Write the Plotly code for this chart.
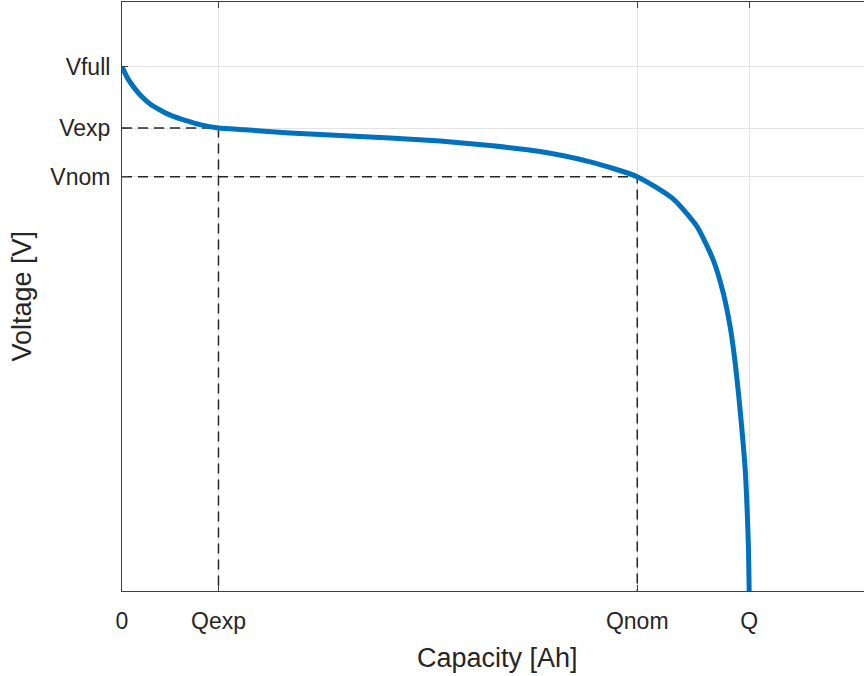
import plotly.graph_objects as go

# Discharge curve samples: capacity [Ah] vs terminal voltage [V]
capacity = [0.0, 0.0622, 0.1348, 0.2073, 0.2903, 0.394, 0.5184, 0.6635, 0.8086,
            1.0, 1.2751, 1.7417, 2.26, 2.778, 3.297, 3.815, 4.333, 4.852,
            5.34, 5.712, 5.961, 6.127, 6.231, 6.303, 6.355, 6.396, 6.428,
            6.459, 6.479, 6.493, 6.5]
voltage = [4.200, 4.104, 4.024, 3.960, 3.903, 3.855, 3.807, 3.769, 3.737,
           3.710, 3.696, 3.670, 3.650, 3.630, 3.606, 3.570, 3.522, 3.439,
           3.320, 3.142, 2.918, 2.653, 2.389, 2.116, 1.828, 1.531, 1.266,
           0.970, 0.649, 0.329, 0.0]

# Characteristic points
q_exp, q_nom, q_full = 1.0, 5.34, 6.5
v_full, v_exp, v_nom = 4.20, 3.71, 3.32

x_ticks = [0, q_exp, q_nom, q_full]
x_labels = ["0", "Qexp", "Qnom", "Q"]
y_ticks = [v_nom, v_exp, v_full]
y_labels = ["Vnom", "Vexp", "Vfull"]

x_range = [0, 7.69]
y_range = [0, 4.72]

font_family = "Liberation Sans, Arial, Helvetica, sans-serif"
text_color = "#262626"
dash_style = dict(color="#262626", width=1.5, dash="10px,6px")

fig = go.Figure()

# Dashed guides to the exponential-zone and nominal-zone points
fig.add_trace(go.Scatter(x=[0, q_exp, q_exp], y=[v_exp, v_exp, 0],
                         mode="lines", line=dash_style, hoverinfo="skip"))
fig.add_trace(go.Scatter(x=[0, q_nom, q_nom], y=[v_nom, v_nom, 0],
                         mode="lines", line=dash_style, hoverinfo="skip"))

# Discharge curve
fig.add_trace(go.Scatter(x=capacity, y=voltage, mode="lines",
                         line=dict(color="#0072BD", width=5, shape="spline",
                                   smoothing=0.6)))

axis_common = dict(
    showgrid=True, gridcolor="#e3e3e3", gridwidth=1,
    showline=True, linecolor="#404040", linewidth=1,
    ticks="inside", ticklen=6, tickcolor="#404040",
    zeroline=False,
    tickfont=dict(family=font_family, size=23, color=text_color),
)

fig.update_xaxes(range=x_range, tickmode="array", tickvals=x_ticks,
                 ticktext=x_labels, mirror="ticks", ticklabelstandoff=9,
                 **axis_common)
fig.update_yaxes(range=y_range, tickmode="array", tickvals=y_ticks,
                 ticktext=y_labels, mirror=False, ticklabelstandoff=6,
                 **axis_common)

fig.update_layout(
    width=864, height=676,
    margin=dict(l=122, r=0, t=2, b=85),
    paper_bgcolor="white", plot_bgcolor="white",
    showlegend=False,
    annotations=[
        dict(text="Capacity [Ah]", xref="paper", yref="paper",
             x=0.5054, y=0, yshift=-67, xanchor="center", yanchor="middle",
             showarrow=False,
             font=dict(family=font_family, size=27, color=text_color)),
        dict(text="Voltage [V]", xref="paper", yref="paper",
             x=0, y=0.5, xshift=-101, xanchor="center", yanchor="middle",
             textangle=-90, showarrow=False,
             font=dict(family=font_family, size=27, color=text_color)),
    ],
)

fig.write_html("out.html")
